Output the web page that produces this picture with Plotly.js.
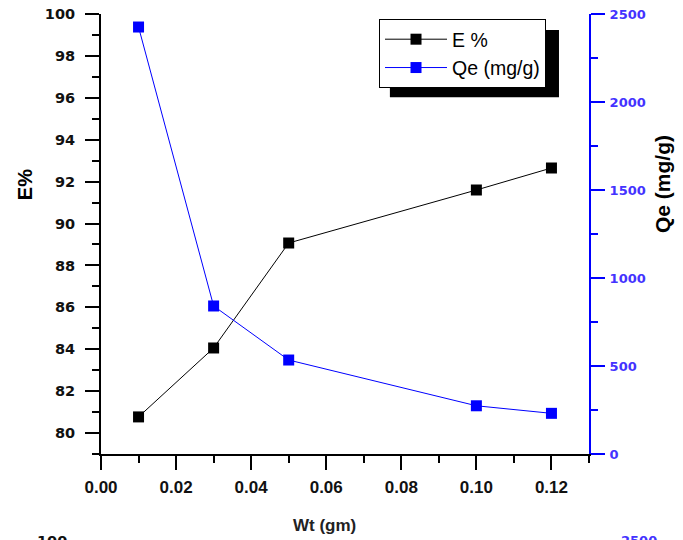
<!DOCTYPE html>
<html><head><meta charset="utf-8">
<script src="https://cdn.plot.ly/plotly-3.0.1.min.js"></script>
<style>body{margin:0;padding:0;background:#fff}#c{width:683px;height:540px}</style>
</head><body><div id="c"></div>
<script>
const wt = [0.01, 0.03, 0.05, 0.10, 0.12];
const ePct = [80.77, 84.06, 89.07, 91.6, 92.65];
const qe = [2426, 841, 534, 274, 231];
const xTitle = "Wt (gm)";
const y1Title = "E%";
const y2Title = "Qe (mg/g)";
const name1 = "E %";
const name2 = "Qe (mg/g)";
const cutLeft = "100";
const cutRight = "2500";

const F = "Liberation Sans, Arial, sans-serif";
const D = "DejaVu Sans, Verdana, sans-serif";
const blueTick = "#4433ff";

const traces = [
  {x: wt, y: ePct, name: name1, type: 'scatter', mode: 'lines+markers', legendgroup: 'a',
   line: {color: '#000', width: 1}, marker: {symbol: 'square', size: 11, color: '#000'}, xaxis: 'x', yaxis: 'y'},
  {x: wt, y: qe, name: name2, type: 'scatter', mode: 'lines+markers', legendgroup: 'b',
   line: {color: '#0000ff', width: 1}, marker: {symbol: 'square', size: 11, color: '#0000ff'}, xaxis: 'x', yaxis: 'y2'}
];

const layout = {
  width: 683, height: 540,
  margin: {l: 101, r: 94, t: 14, b: 86},
  paper_bgcolor: '#fff', plot_bgcolor: '#fff',
  showlegend: true,
  legend: {x: 0.5697, y: 0.9886, xanchor: 'left', yanchor: 'top', bgcolor: '#fff', bordercolor: '#000', borderwidth: 1,
           font: {family: F, size: 19.5, color: '#000'}, itemwidth: 62, tracegroupgap: 0},
  xaxis: {range: [0, 0.13], dtick: 0.02, tick0: 0, tickformat: '.2f', showgrid: false, zeroline: false,
          showline: true, linecolor: '#000', linewidth: 2, ticks: 'outside', ticklen: 14, tickwidth: 2, tickcolor: '#000',
          minor: {dtick: 0.01, ticks: 'outside', ticklen: 7, tickwidth: 2, tickcolor: '#000', showgrid: false},
          tickfont: {family: F, size: 17, color: '#111', weight: 'bold'}, ticklabelstandoff: 3},
  xaxis2: {range: [0, 0.13], overlaying: 'x', side: 'top', anchor: 'y', dtick: 0.01, tick0: 0, showticklabels: false,
          showgrid: false, zeroline: false, showline: true, linecolor: '#000', linewidth: 2,
          ticks: 'inside', ticklen: 5, tickwidth: 2, tickcolor: '#000'},
  yaxis: {range: [79, 100], dtick: 2, tick0: 80, showgrid: false, zeroline: false,
          showline: true, linecolor: '#000', linewidth: 2, ticks: 'outside', ticklen: 14, tickwidth: 2, tickcolor: '#000',
          minor: {dtick: 1, ticks: 'outside', ticklen: 7, tickwidth: 2, tickcolor: '#000', showgrid: false},
          tickfont: {family: D, size: 14.5, color: '#111', weight: 'bold'}, ticklabelstandoff: 7},
  yaxis2: {range: [0, 2500], dtick: 500, overlaying: 'y', side: 'right', showgrid: false, zeroline: false,
          showline: true, linecolor: '#0000ff', linewidth: 2, ticks: 'outside', ticklen: 14, tickwidth: 2, tickcolor: '#0000ff',
          minor: {dtick: 250, ticks: 'outside', ticklen: 7, tickwidth: 2, tickcolor: '#0000ff', showgrid: false},
          tickfont: {family: D, size: 13, color: blueTick, weight: 'bold'}, ticklabelstandoff: 2},
  annotations: [
    {text: y1Title, xref: 'paper', yref: 'paper', x: -0.1557, y: 0.611, xanchor: 'center', yanchor: 'middle', textangle: -90,
     showarrow: false, font: {family: F, size: 20, color: '#000', weight: 'bold'}},
    {text: y2Title, xref: 'paper', yref: 'paper', x: 1.1496, y: 0.6136, xanchor: 'center', yanchor: 'middle', textangle: -90,
     showarrow: false, font: {family: F, size: 21, color: '#000', weight: 'bold'}},
    {text: xTitle, xref: 'paper', yref: 'paper', x: 0.457, y: -0.1614, xanchor: 'center', yanchor: 'middle',
     showarrow: false, font: {family: F, size: 17, color: '#222', weight: 'bold'}},
    {text: cutLeft, xref: 'paper', yref: 'paper', x: -0.1004, y: -0.1977, xanchor: 'center', yanchor: 'middle',
     showarrow: false, font: {family: D, size: 14.5, color: '#111', weight: 'bold'}},
    {text: cutRight, xref: 'paper', yref: 'paper', x: 1.1025, y: -0.1977, xanchor: 'center', yanchor: 'middle',
     showarrow: false, font: {family: D, size: 13, color: blueTick, weight: 'bold'}}
  ],
  shapes: [
    {type: 'rect', xref: 'paper', yref: 'paper', x0: 0.592, x1: 0.9385, y0: 0.811, y1: 0.9636, fillcolor: '#000', line: {width: 0}, layer: 'above'}
  ]
};
Plotly.newPlot('c', traces, layout, {displayModeBar: false, staticPlot: true});
</script></body></html>
